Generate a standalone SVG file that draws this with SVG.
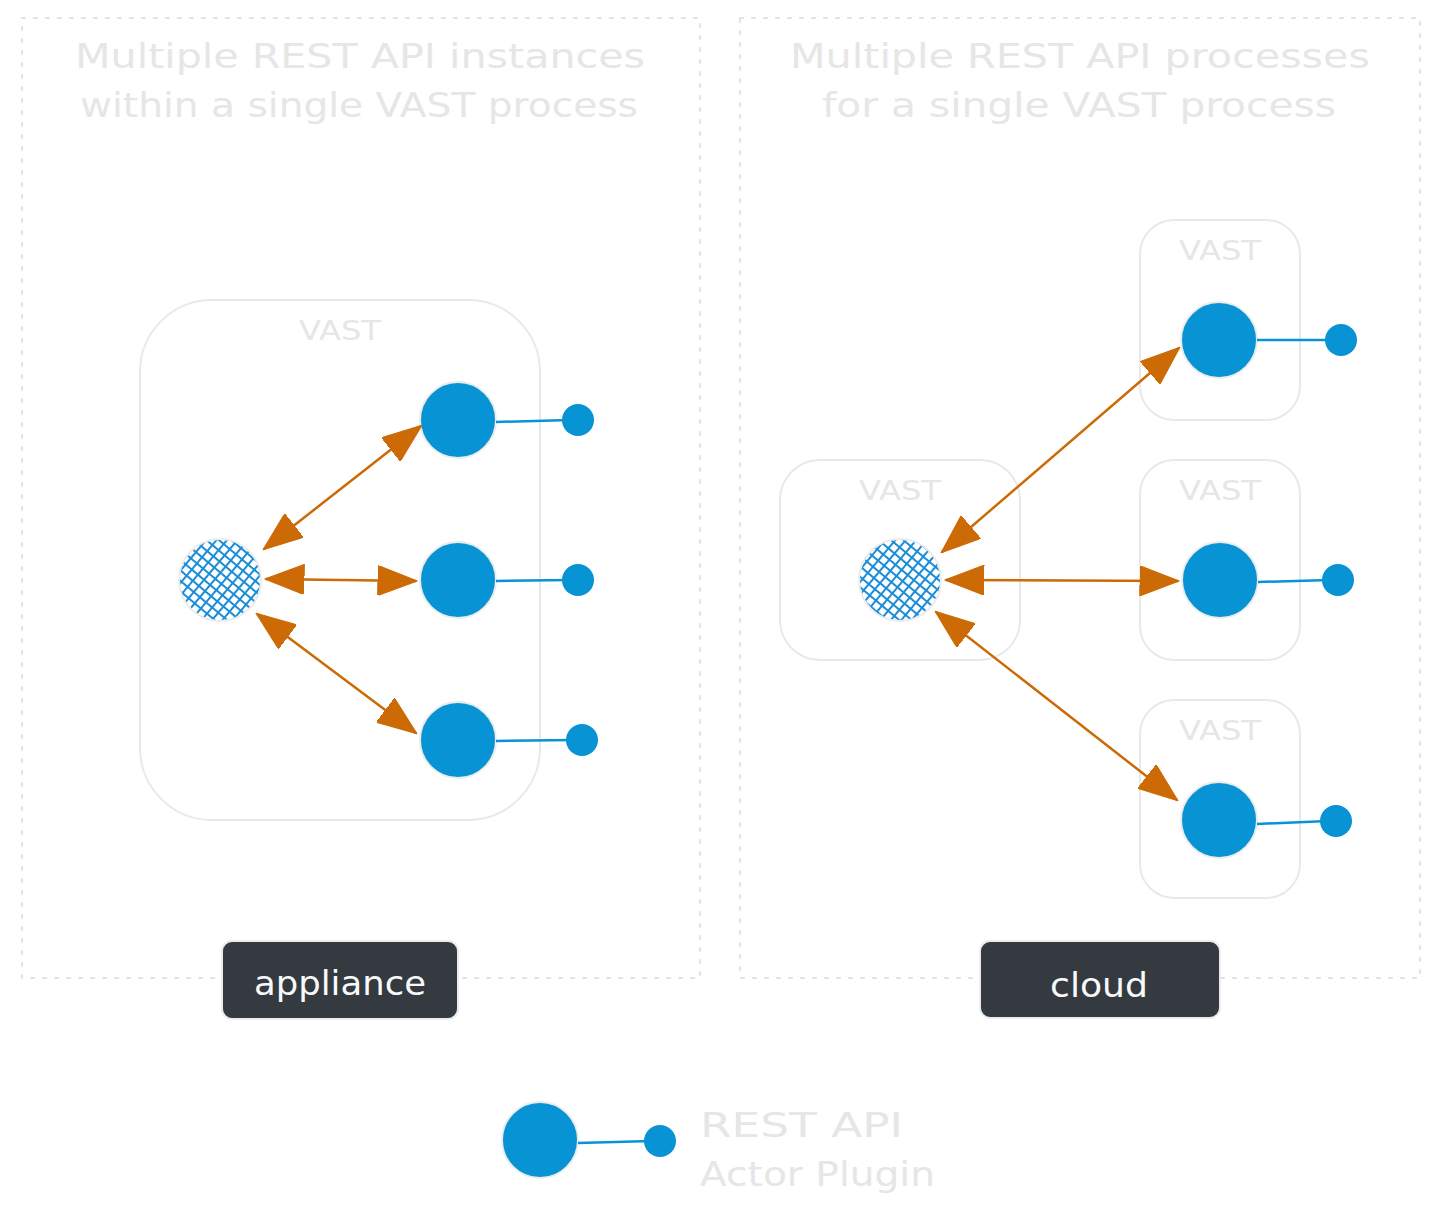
<svg xmlns="http://www.w3.org/2000/svg" width="1440" height="1220" viewBox="0 0 1440 1220">
<defs>
<style>
.frame{fill:none;stroke:#e3e3e3;stroke-width:2.2;stroke-dasharray:3 9;stroke-linecap:round}
.title{font-family:"DejaVu Sans","Liberation Sans",sans-serif;font-size:34px;fill:#e6e6e6;text-anchor:middle}
.box{fill:none;stroke:#e9e9e9;stroke-width:2}
.boxlabel{font-family:"DejaVu Sans","Liberation Sans",sans-serif;font-size:27px;fill:#e6e6e6;text-anchor:middle}
.actor{fill:#0893d5;stroke:#ececec;stroke-width:2}
.port{fill:#0893d5}
.wire{stroke:#0893d5;stroke-width:2.5;fill:none}
.hub{fill:url(#hatch);stroke:#ececec;stroke-width:2}
.conn{stroke:#cc6a05;stroke-width:2.5;fill:none;marker-start:url(#ah);marker-end:url(#ah)}
.tag{fill:#343a40;stroke:#ececec;stroke-width:2}
.tagtext{font-family:"DejaVu Sans","Liberation Sans",sans-serif;font-size:34px;fill:#f8f9fa;text-anchor:middle}
.legend{font-family:"DejaVu Sans","Liberation Sans",sans-serif;font-size:34px;fill:#e6e6e6}
</style>
<pattern id="hatch" patternUnits="userSpaceOnUse" width="8" height="8" patternTransform="rotate(40)">
<rect width="8" height="8" fill="#ffffff"/>
<path d="M0,1 H8 M1,0 V8" stroke="#1a8dd8" stroke-width="2"/>
</pattern>
<marker id="ah" markerUnits="userSpaceOnUse" markerWidth="40" markerHeight="30" viewBox="0 0 34 26" refX="33" refY="13" orient="auto-start-reverse">
<path d="M0,0 L34,13 L0,26 Z" fill="#cc6a05" stroke="#cc6a05" stroke-width="1" stroke-linejoin="round"/>
</marker>
</defs>
<rect width="1440" height="1220" fill="#ffffff"/>

<g id="frame-appliance">
<rect class="frame" x="22" y="18" width="678" height="960"/>
<text class="title" x="360" y="68" textLength="570" lengthAdjust="spacingAndGlyphs">Multiple REST API instances</text>
<text class="title" x="359" y="117" textLength="558" lengthAdjust="spacingAndGlyphs">within a single VAST process</text>
</g>
<g id="frame-cloud">
<rect class="frame" x="740" y="18" width="680" height="960"/>
<text class="title" x="1080" y="68" textLength="580" lengthAdjust="spacingAndGlyphs">Multiple REST API processes</text>
<text class="title" x="1079" y="117" textLength="514" lengthAdjust="spacingAndGlyphs">for a single VAST process</text>
</g>

<g id="vast-appliance">
<rect class="box" x="140" y="300" width="400" height="520" rx="72"/>
<text class="boxlabel" x="340" y="340" textLength="82" lengthAdjust="spacingAndGlyphs">VAST</text>
</g>
<g id="vast-cloud-main">
<rect class="box" x="780" y="460" width="240" height="200" rx="40"/>
<text class="boxlabel" x="900" y="500" textLength="82" lengthAdjust="spacingAndGlyphs">VAST</text>
</g>
<g id="vast-cloud-1">
<rect class="box" x="1140" y="220" width="160" height="200" rx="34"/>
<text class="boxlabel" x="1220" y="260" textLength="82" lengthAdjust="spacingAndGlyphs">VAST</text>
</g>
<g id="vast-cloud-2">
<rect class="box" x="1140" y="460" width="160" height="200" rx="34"/>
<text class="boxlabel" x="1220" y="500" textLength="82" lengthAdjust="spacingAndGlyphs">VAST</text>
</g>
<g id="vast-cloud-3">
<rect class="box" x="1140" y="700" width="160" height="198" rx="34"/>
<text class="boxlabel" x="1220" y="740" textLength="82" lengthAdjust="spacingAndGlyphs">VAST</text>
</g>

<g id="hub-appliance"><circle class="hub" cx="220" cy="580" r="41"/></g>
<g id="hub-cloud"><circle class="hub" cx="900" cy="580" r="41"/></g>

<g id="plugin-a1"><circle class="actor" cx="458" cy="420" r="38"/><line class="wire" x1="496" y1="422" x2="570" y2="420"/><circle class="port" cx="578" cy="420" r="16"/></g>
<g id="plugin-a2"><circle class="actor" cx="458" cy="580" r="38"/><line class="wire" x1="496" y1="581" x2="570" y2="580"/><circle class="port" cx="578" cy="580" r="16"/></g>
<g id="plugin-a3"><circle class="actor" cx="458" cy="740" r="38"/><line class="wire" x1="496" y1="741" x2="574" y2="740"/><circle class="port" cx="582" cy="740" r="16"/></g>

<g id="plugin-c1"><circle class="actor" cx="1219" cy="340" r="38"/><line class="wire" x1="1257" y1="340" x2="1333" y2="340"/><circle class="port" cx="1341" cy="340" r="16"/></g>
<g id="plugin-c2"><circle class="actor" cx="1220" cy="580" r="38"/><line class="wire" x1="1258" y1="582" x2="1330" y2="580"/><circle class="port" cx="1338" cy="580" r="16"/></g>
<g id="plugin-c3"><circle class="actor" cx="1219" cy="820" r="38"/><line class="wire" x1="1257" y1="824" x2="1328" y2="821"/><circle class="port" cx="1336" cy="821" r="16"/></g>

<g id="connectors">
<line class="conn" x1="264" y1="549" x2="421" y2="426"/>
<line class="conn" x1="266" y1="579" x2="416" y2="581"/>
<line class="conn" x1="257" y1="614" x2="416" y2="733"/>
<line class="conn" x1="942" y1="552" x2="1179" y2="348"/>
<line class="conn" x1="946" y1="580" x2="1178" y2="581"/>
<line class="conn" x1="936" y1="612" x2="1177" y2="800"/>
</g>

<g id="tag-appliance">
<rect class="tag" x="222" y="941" width="236" height="78" rx="10"/>
<text class="tagtext" x="340" y="995" textLength="172" lengthAdjust="spacingAndGlyphs">appliance</text>
</g>
<g id="tag-cloud">
<rect class="tag" x="980" y="941" width="240" height="77" rx="10"/>
<text class="tagtext" x="1099" y="997" textLength="98" lengthAdjust="spacingAndGlyphs">cloud</text>
</g>

<g id="legend">
<circle class="actor" cx="540" cy="1140" r="38"/>
<line class="wire" x1="578" y1="1143" x2="652" y2="1141"/>
<circle class="port" cx="660" cy="1141" r="16"/>
<text class="legend" x="700" y="1137" textLength="203" lengthAdjust="spacingAndGlyphs">REST API</text>
<text class="legend" x="700" y="1186" textLength="235" lengthAdjust="spacingAndGlyphs">Actor Plugin</text>
</g>
</svg>
